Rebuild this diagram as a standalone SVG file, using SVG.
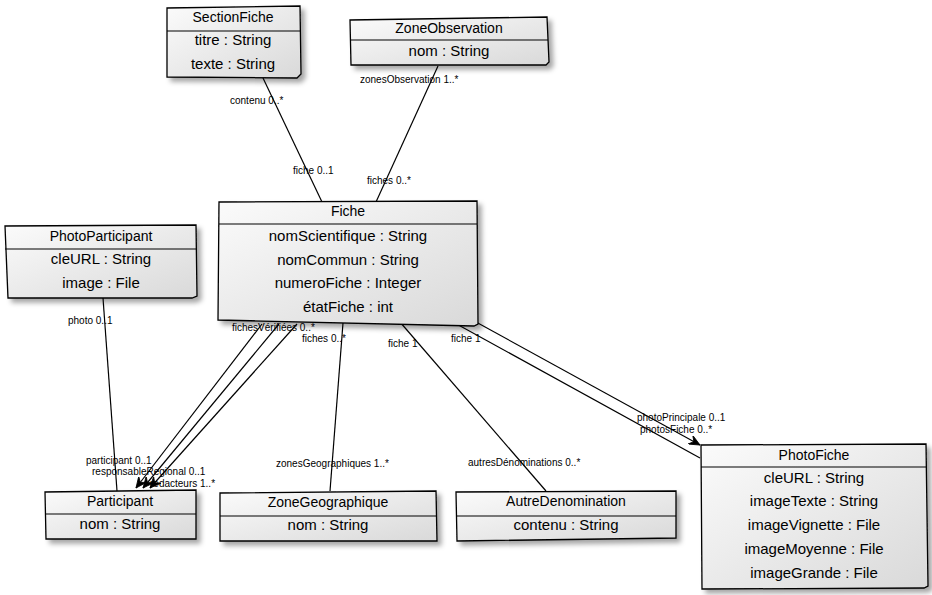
<svg xmlns="http://www.w3.org/2000/svg" width="932" height="595" viewBox="0 0 932 595">
  <defs>
    <linearGradient id="boxFill" x1="0" y1="0" x2="1" y2="1">
      <stop offset="0" stop-color="#fbfbfb"/>
      <stop offset="1" stop-color="#d9d9d9"/>
    </linearGradient>
    <filter id="shadow" x="-10%" y="-10%" width="125%" height="130%">
      <feDropShadow dx="4" dy="4" stdDeviation="2.5" flood-color="#000" flood-opacity="0.35"/>
    </filter>
    <marker id="arrow" viewBox="0 0 12 10" refX="11" refY="5" markerWidth="12" markerHeight="10" markerUnits="userSpaceOnUse" orient="auto">
      <path d="M0,0 L11,5 L0,10 L4,5 Z" fill="#000" stroke="#000" stroke-width="0.8"/>
    </marker>
    <style>
      .box { fill: url(#boxFill); stroke: #000; stroke-width: 1.3; filter: url(#shadow); }
      .sep { stroke: #000; stroke-width: 1.2; }
      .title { font-family: "Liberation Sans", "DejaVu Sans", sans-serif; font-size: 14px; text-anchor: middle; fill: #000; }
      .attr { font-family: "Liberation Sans", "DejaVu Sans", sans-serif; font-size: 15px; text-anchor: middle; fill: #000; }
      .edge { stroke: #000; stroke-width: 1.2; fill: none; }
      .lbl { font-family: "Liberation Sans", "DejaVu Sans", sans-serif; font-size: 10px; fill: #000; }
    </style>
  </defs>

  <rect width="932" height="595" fill="#fff"/>

  <!-- associations -->
  <g id="connectors">
    <line class="edge" x1="263" y1="78" x2="322" y2="202"/>
    <line class="edge" x1="438" y1="66" x2="376" y2="202"/>
    <line class="edge" x1="103" y1="298" x2="117" y2="491"/>
    <line class="edge" x1="262" y1="324" x2="136" y2="488" marker-end="url(#arrow)"/>
    <line class="edge" x1="279" y1="324" x2="143" y2="488" marker-end="url(#arrow)"/>
    <line class="edge" x1="297" y1="324" x2="150" y2="488" marker-end="url(#arrow)"/>
    <line class="edge" x1="343" y1="323" x2="330" y2="491"/>
    <line class="edge" x1="400" y1="322" x2="546" y2="491"/>
    <line class="edge" x1="476" y1="322" x2="700" y2="445" marker-end="url(#arrow)"/>
    <line class="edge" x1="453" y1="322" x2="700" y2="458"/>

    <text class="lbl" x="230" y="104">contenu  0..*</text>
    <text class="lbl" x="293" y="174">fiche  0..1</text>
    <text class="lbl" x="360" y="83">zonesObservation  1..*</text>
    <text class="lbl" x="367" y="184">fiches  0..*</text>
    <text class="lbl" x="68" y="324">photo  0..1</text>
    <text class="lbl" x="86" y="464">participant  0..1</text>
    <text class="lbl" x="92" y="475">responsableRegional  0..1</text>
    <text class="lbl" x="150" y="487">redacteurs  1..*</text>
    <text class="lbl" x="232" y="331">fichesVérifiées  0..*</text>
    <text class="lbl" x="302" y="342">fiches  0..*</text>
    <text class="lbl" x="388" y="347">fiche  1</text>
    <text class="lbl" x="451" y="342">fiche  1</text>
    <text class="lbl" x="276" y="467">zonesGeographiques  1..*</text>
    <text class="lbl" x="468" y="466">autresDénominations  0..*</text>
    <text class="lbl" x="637" y="421">photoPrincipale  0..1</text>
    <text class="lbl" x="640" y="433">photosFiche  0..*</text>
  </g>

  <g id="SectionFiche">
    <path class="box" d="M167,8 L300,6 L301,74 L297,78 L167,77 Z"/>
    <line class="sep" x1="167" y1="31" x2="300" y2="31"/>
    <text class="title" x="233" y="22">SectionFiche</text>
    <text class="attr" x="233" y="45">titre : String</text>
    <text class="attr" x="233" y="69">texte : String</text>
  </g>

  <g id="ZoneObservation">
    <path class="box" d="M350,20 L547,17 L549,62 L546,65 L351,65 Z"/>
    <line class="sep" x1="350" y1="40" x2="548" y2="40"/>
    <text class="title" x="449" y="33">ZoneObservation</text>
    <text class="attr" x="449" y="56">nom : String</text>
  </g>

  <g id="Fiche">
    <path class="box" d="M219,202 L477,201 L478,324 L474,326 L218,320 Z"/>
    <line class="sep" x1="219" y1="224" x2="477" y2="224"/>
    <text class="title" x="348" y="216">Fiche</text>
    <text class="attr" x="348" y="241">nomScientifique : String</text>
    <text class="attr" x="348" y="265">nomCommun : String</text>
    <text class="attr" x="348" y="288">numeroFiche : Integer</text>
    <text class="attr" x="348" y="312">étatFiche : int</text>
  </g>

  <g id="PhotoParticipant">
    <path class="box" d="M5,226 L196,225 L197,296 L192,298 L8,298 Z"/>
    <line class="sep" x1="5" y1="249" x2="196" y2="249"/>
    <text class="title" x="101" y="241">PhotoParticipant</text>
    <text class="attr" x="101" y="264">cleURL : String</text>
    <text class="attr" x="101" y="288">image : File</text>
  </g>

  <g id="Participant">
    <path class="box" d="M45,492 L196,490 L196,539 L46,539 Z"/>
    <line class="sep" x1="45" y1="514" x2="196" y2="514"/>
    <text class="title" x="120" y="506">Participant</text>
    <text class="attr" x="120" y="529">nom : String</text>
  </g>

  <g id="ZoneGeographique">
    <path class="box" d="M220,493 L436,491 L437,541 L220,541 Z"/>
    <line class="sep" x1="220" y1="516" x2="437" y2="516"/>
    <text class="title" x="328" y="507">ZoneGeographique</text>
    <text class="attr" x="328" y="530">nom : String</text>
  </g>

  <g id="AutreDenomination">
    <path class="box" d="M456,492 L676,491 L676,538 L457,541 Z"/>
    <line class="sep" x1="456" y1="516" x2="676" y2="516"/>
    <text class="title" x="566" y="506">AutreDenomination</text>
    <text class="attr" x="566" y="530">contenu : String</text>
  </g>

  <g id="PhotoFiche">
    <path class="box" d="M701,445 L926,444 L928,586 L924,588 L702,589 Z"/>
    <line class="sep" x1="701" y1="467" x2="927" y2="467"/>
    <text class="title" x="814" y="460">PhotoFiche</text>
    <text class="attr" x="814" y="483">cleURL : String</text>
    <text class="attr" x="814" y="506">imageTexte : String</text>
    <text class="attr" x="814" y="530">imageVignette : File</text>
    <text class="attr" x="814" y="554">imageMoyenne : File</text>
    <text class="attr" x="814" y="578">imageGrande : File</text>
  </g>
</svg>
